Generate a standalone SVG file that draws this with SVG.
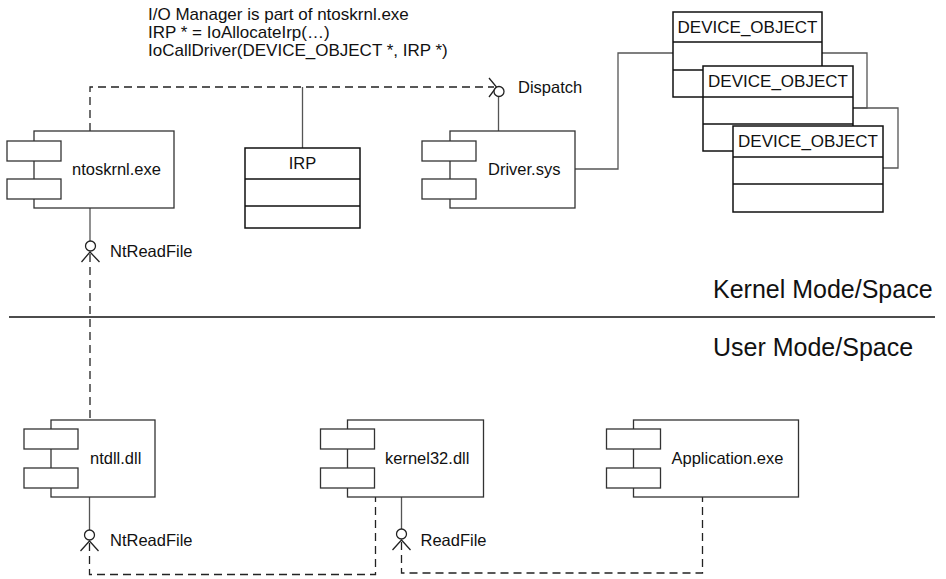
<svg xmlns="http://www.w3.org/2000/svg" width="946" height="579" viewBox="0 0 946 579">
<style>
text{font-family:"Liberation Sans",Arial,sans-serif;fill:#111}
.lbl{font-size:16.5px}
.top{font-size:17px}
.big{font-size:25px}
.comp{fill:#fff;stroke:#333;stroke-width:1.3}
.cls{fill:#fff;stroke:#111;stroke-width:1.5}
.solid{fill:none;stroke:#555;stroke-width:1.3}
.dash{fill:none;stroke:#222;stroke-width:1.3;stroke-dasharray:8 5}
.lolly{fill:#fff;stroke:#222;stroke-width:1.3}
.arr{fill:none;stroke:#222;stroke-width:1.3}
</style>
<rect width="946" height="579" fill="#fff"/>
<g id="note">
<text class="top" x="148" y="19.5">I/O Manager is part of ntoskrnl.exe</text>
<text class="top" x="148" y="37.5">IRP * = IoAllocateIrp(…)</text>
<text class="top" x="148" y="56">IoCallDriver(DEVICE_OBJECT *, IRP *)</text>
</g>
<g id="connectors">
<path class="dash" d="M90,131 V87 H494"/>
<path class="arr" d="M489,78 L496.5,87 L489,97"/>
<path class="solid" d="M302.5,87 V148"/>
<path class="solid" d="M498.5,96.5 V131"/>
<circle class="lolly" cx="499" cy="91.5" r="5"/>
<path class="solid" d="M575,169 H618 V53 H673"/>
<path class="solid" d="M822,53 H867 V108 H853"/>
<path class="solid" d="M853,108 H898 V168 H883"/>
<path class="solid" d="M90,208 V241"/>
<circle class="lolly" cx="90.5" cy="246" r="5"/>
<path class="arr" d="M81.5,262 L90,252 L99.5,262"/>
<path class="dash" d="M90,254 V420"/>
<path class="solid" d="M89.5,497 V530"/>
<circle class="lolly" cx="89.5" cy="535" r="5"/>
<path class="arr" d="M80.5,551 L89.5,541 L98.5,551"/>
<path class="dash" d="M89.5,543 V574.5 H375.5 V497"/>
<path class="solid" d="M401.5,497 V529"/>
<circle class="lolly" cx="401.5" cy="534" r="5"/>
<path class="arr" d="M392.5,550 L401.5,540 L410.5,550"/>
<path class="dash" d="M401.5,542 V573 H702.5 V497"/>
</g>
<g id="ntoskrnl">
<rect class="comp" x="34" y="131" width="140" height="77"/>
<rect class="comp" x="7" y="141" width="54" height="20"/>
<rect class="comp" x="7" y="179" width="54" height="20"/>
<text class="lbl" x="72" y="175">ntoskrnl.exe</text>
</g>
<g id="irp">
<rect class="cls" x="245" y="148" width="115" height="80"/>
<path class="cls" d="M245,179 H360 M245,206 H360"/>
<text class="lbl" x="302.5" y="169" text-anchor="middle">IRP</text>
</g>
<g id="driver">
<rect class="comp" x="450" y="131" width="125" height="77"/>
<rect class="comp" x="422" y="141" width="54" height="20"/>
<rect class="comp" x="422" y="179" width="54" height="20"/>
<text class="lbl" x="488" y="175">Driver.sys</text>
</g>
<g id="dispatch-label">
<text class="lbl" x="518" y="93">Dispatch</text>
</g>
<g id="device1">
<rect class="cls" x="673" y="12" width="149" height="85"/>
<path class="cls" d="M673,42 H822 M673,70 H822"/>
<text class="top" x="747.5" y="33" text-anchor="middle">DEVICE_OBJECT</text>
</g>
<g id="device2">
<rect class="cls" x="703" y="66" width="150" height="85"/>
<path class="cls" d="M703,97 H853 M703,124 H853"/>
<text class="top" x="778" y="87" text-anchor="middle">DEVICE_OBJECT</text>
</g>
<g id="device3">
<rect class="cls" x="733" y="126" width="150" height="86"/>
<path class="cls" d="M733,157 H883 M733,184 H883"/>
<text class="top" x="808" y="147" text-anchor="middle">DEVICE_OBJECT</text>
</g>
<g id="ntreadfile-k">
<text class="lbl" x="110" y="257">NtReadFile</text>
</g>
<g id="boundary">
<path d="M9,317 H935" stroke="#111" stroke-width="1.6"/>
<text class="big" x="713" y="298">Kernel Mode/Space</text>
<text class="big" x="713" y="356">User Mode/Space</text>
</g>
<g id="ntdll">
<rect class="comp" x="51" y="420" width="104" height="77"/>
<rect class="comp" x="24" y="429" width="54" height="20"/>
<rect class="comp" x="24" y="468" width="54" height="20"/>
<text class="lbl" x="90" y="464">ntdll.dll</text>
</g>
<g id="ntreadfile-u">
<text class="lbl" x="110" y="546">NtReadFile</text>
</g>
<g id="kernel32">
<rect class="comp" x="347.5" y="420" width="136" height="77"/>
<rect class="comp" x="320.5" y="429" width="54" height="20"/>
<rect class="comp" x="320.5" y="468" width="54" height="20"/>
<text class="lbl" x="385" y="464">kernel32.dll</text>
</g>
<g id="readfile">
<text class="lbl" x="420.5" y="546">ReadFile</text>
</g>
<g id="application">
<rect class="comp" x="633.5" y="420" width="165" height="77"/>
<rect class="comp" x="606.5" y="429" width="54" height="20"/>
<rect class="comp" x="606.5" y="468" width="54" height="20"/>
<text class="lbl" x="671.5" y="464">Application.exe</text>
</g>
</svg>
